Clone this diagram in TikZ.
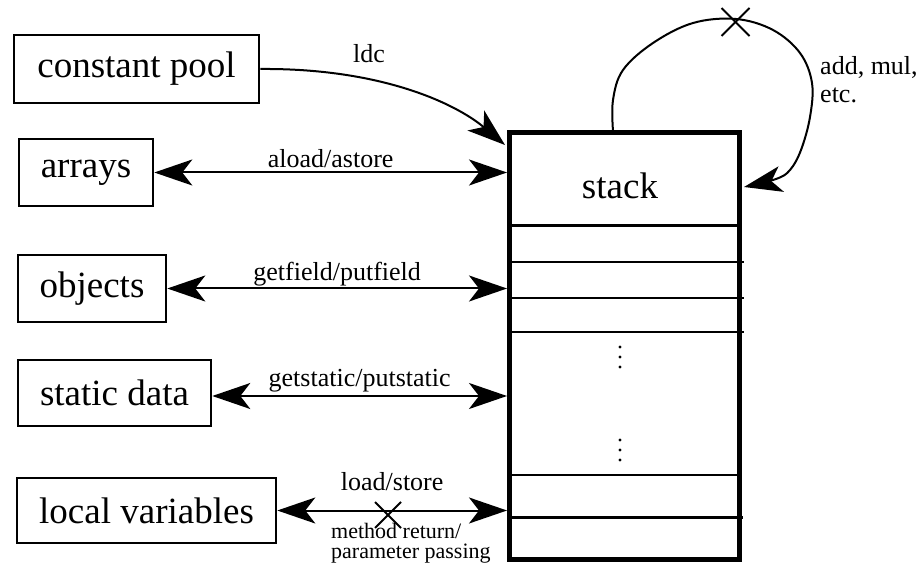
\documentclass[tikz,border=0pt]{standalone}
\usepackage{fontspec}
\setmainfont{Liberation Serif}
\usetikzlibrary{arrows.meta}
\begin{document}
\begin{tikzpicture}[x=1pt,y=-1pt,
  >={Stealth[length=38pt,width=26pt,inset=10pt]},
  box/.style={draw, line width=2.6pt, inner sep=0pt, font=\fontsize{37}{40}\selectfont},
  stackbox/.style={draw, line width=5pt, minimum width=230pt, minimum height=426pt, inner sep=0pt},
  conn/.style={line width=2pt},
  slot/.style={line width=2.4pt},
  lbl/.style={font=\fontsize{26}{28}\selectfont, inner sep=0pt},
  small/.style={font=\fontsize{22}{20}\selectfont, inner sep=0pt},
  cross/.style={line width=1.8pt},
  dot/.style={fill=black}]
\useasboundingbox (0,0) rectangle (921,569);

% left boxes
\node[box, minimum width=245pt, minimum height=68pt] (cpool) at (136.5,69) {constant pool};
\node[box, minimum width=134pt, minimum height=67pt] (arrays) at (86,172.5) {arrays};
\node[box, minimum width=148pt, minimum height=67pt] (objects) at (92,288.5) {objects};
\node[box, minimum width=193pt, minimum height=66pt] (static) at (114.5,393) {static data};
\node[box, minimum width=259pt, minimum height=65pt] (locals) at (146.5,510.5) {local variables};

% stack
\node[stackbox] (stack) at (624.5,346) {};
\node[inner sep=0pt, font=\fontsize{37}{40}\selectfont] (stacklbl) at (620,186) {stack};
\draw[slot] (509.5,225.7) -- (739.5,225.7);
\draw[slot] (509.5,262.3) -- (744,262.3);
\draw[slot] (509.5,298.3) -- (744,298.3);
\draw[slot] (509.5,332.3) -- (744,332.3);
\draw[slot] (509.5,475) -- (739.5,475);
\draw[slot] (509.5,517.3) -- (743,517.3);
\foreach \yy in {347,357,367,440,450,460}
  \fill[dot] (620,\yy) circle (1.6pt);

% ldc
\coordinate (ldctip) at (505,145);
\draw[conn,->] (cpool.east) .. controls (380,68) and (455,103) .. (ldctip);
\node[lbl, anchor=base] (lldc) at (369,63) {ldc};

% horizontal connectors
\draw[conn,<->] (arrays.east) -- (arrays.east -| stack.west)
  node[lbl, midway, anchor=base, yshift=5pt] (laload) {aload/astore};
\draw[conn,<->] (objects.east) -- (objects.east -| stack.west)
  node[lbl, midway, anchor=base, yshift=8pt] (lgetf) {getfield/putfield};
\draw[conn,<->] ([yshift=-3pt]static.east) -- ([yshift=-3pt]static.east -| stack.west)
  node[lbl, midway, anchor=base, yshift=10pt] (lgets) {getstatic/putstatic};
\draw[conn,<->] (locals.east) -- (locals.east -| stack.west)
  node[lbl, midway, anchor=base, yshift=20.5pt] (lload) {load/store};

% cross on load/store
\coordinate (xl) at (388,515);
\draw[cross] ([shift={(-13,-13)}]xl) -- ([shift={(13,13)}]xl);
\draw[cross] ([shift={(13,-13)}]xl) -- ([shift={(-13,13)}]xl);
\node[small, anchor=base west] (lmeth) at (331,538)
  {\begin{tabular}[t]{@{}l@{}}method return/\\parameter passing\end{tabular}};

% self loop
\coordinate (loopstart) at (613,131);
\coordinate (looptip) at (744,187);
\draw[conn,->] plot[smooth, tension=0.6] coordinates {(loopstart) (613,100) (623,70) (653,43) (693,23) (736,19) (773,30) (800,53) (812,83) (810,117) (801,150) (790,170) (776,179) (looptip)};
\coordinate (xt) at (735.5,22);
\draw[cross] ([shift={(-14,-14)}]xt) -- ([shift={(14,14)}]xt);
\draw[cross] ([shift={(14,-14)}]xt) -- ([shift={(-14,14)}]xt);
\node[lbl, anchor=base west] (ladd) at (820,75)
  {\begin{tabular}[t]{@{}l@{}}add, mul,\\etc.\end{tabular}};
\end{tikzpicture}
\end{document}
